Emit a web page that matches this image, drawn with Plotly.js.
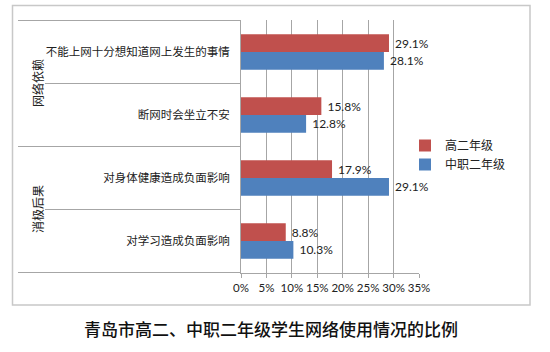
<!DOCTYPE html>
<html>
<head>
<meta charset="utf-8">
<script src="https://cdn.plot.ly/plotly-3.0.1.min.js"></script>
<style>html,body{margin:0;padding:0;background:#fff;}#chart{width:550px;height:352px;}</style>
</head>
<body>
<div id="chart"></div>
<script>
const categories = ["不能上网十分想知道网上发生的事情", "断网时会坐立不安", "对身体健康造成负面影响", "对学习造成负面影响"];
const groups = ["网络依赖", "消极后果"];
const seriesNames = ["高二年级", "中职二年级"];
const gaoer = [29.1, 15.8, 17.9, 8.8];
const zhongzhi = [28.1, 12.8, 29.1, 10.3];
const tickVals = [0, 5, 10, 15, 20, 25, 30, 35];
const tickText = ["0%", "5%", "10%", "15%", "20%", "25%", "30%", "35%"];
const chartTitle = "青岛市高二、中职二年级学生网络使用情况的比例";

const latin = "Lato, 'Noto Sans CJK SC', sans-serif";
const cjk = "'Noto Sans CJK SC', sans-serif";
const txtColor = "#222";

function bar(name, vals, color) {
  return {
    type: "bar", orientation: "h", name: name,
    y: categories, x: vals,
    marker: {color: color},
    text: vals.map(v => "\u00a0" + v.toFixed(1) + "%"),
    textposition: "outside", cliponaxis: false,
    textfont: {family: latin, size: 12, color: txtColor},
    hoverinfo: "skip"
  };
}

const data = [bar(seriesNames[0], gaoer, "#C0504D"), bar(seriesNames[1], zhongzhi, "#4F81BD")];

const W = 178;
const px = p => (p - 241) / W;
const shapes = [];
const lineCol = "#a6a6a6";
shapes.push({type: "rect", xref: "paper", yref: "paper", x0: px(12.5), x1: px(530), y0: (273 - 305) / 253, y1: (273 - 5.5) / 253, line: {color: "#c8c8c8", width: 1.5}});
[[-0.5, 18], [0.5, 45], [1.5, 18], [2.5, 45], [3.5, 18]].forEach(([yv, xs]) => {
  shapes.push({type: "line", xref: "paper", yref: "y", x0: px(xs), x1: 0, y0: yv, y1: yv, line: {color: lineCol, width: 1}});
});

const annotations = [
  {xref: "paper", yref: "y", x: px(27), y: 0.5, text: groups[0], textangle: -90, showarrow: false, font: {family: cjk, size: 12, color: txtColor}},
  {xref: "paper", yref: "y", x: px(27), y: 2.5, text: groups[1], textangle: -90, showarrow: false, font: {family: cjk, size: 12, color: txtColor}}
];

const layout = {
  width: 550, height: 352,
  margin: {l: 241, r: 131, t: 20, b: 79},
  paper_bgcolor: "#fff", plot_bgcolor: "#fff",
  barmode: "group", bargap: 0.44, bargroupgap: 0,
  showlegend: true,
  legend: {x: px(405), y: 1 - (131 - 20) / 253, xanchor: "left", yanchor: "top",
    font: {family: cjk, size: 12, color: txtColor}, itemwidth: 30, tracegroupgap: 0, bgcolor: "rgba(0,0,0,0)"},
  title: {text: chartTitle, x: 271 / 550, xref: "container", xanchor: "center", y: 1 - 330 / 352, yref: "container", yanchor: "middle",
    font: {family: cjk, size: 17, color: "#111", weight: 500}},
  xaxis: {range: [0, 35], tickvals: tickVals, ticktext: tickText, tickangle: 0, showgrid: true, gridcolor: lineCol, gridwidth: 1,
    zeroline: false, showline: true, linecolor: lineCol, ticks: "outside", ticklen: 4, tickcolor: lineCol,
    tickfont: {family: latin, size: 11.5, color: txtColor}, fixedrange: true},
  yaxis: {type: "category", autorange: "reversed", showgrid: false, showline: true, linecolor: lineCol, ticks: "",
    ticklabelstandoff: 8, tickfont: {family: cjk, size: 11.5, color: txtColor}, fixedrange: true},
  shapes: shapes, annotations: annotations
};

Plotly.newPlot("chart", data, layout, {displayModeBar: false, staticPlot: true});
</script>
</body>
</html>
